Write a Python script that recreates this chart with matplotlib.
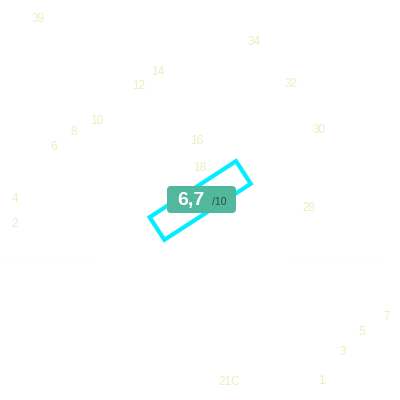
import matplotlib
matplotlib.use("Agg")
import matplotlib.pyplot as plt
from matplotlib.patches import FancyBboxPatch, Rectangle
import matplotlib.transforms as mtransforms

# seat labels and their positions on the plan (pixel units, y down)
labels = ["39", "34", "14", "12", "32", "10", "8", "6", "30", "16", "18",
          "4", "2", "28", "7", "5", "3", "21C", "1"]
label_x = [38, 254, 158, 139, 291, 97, 74, 54, 319, 197, 200,
           15, 15, 309, 387, 362, 343, 229, 321]
label_y = [19, 42, 72, 86, 84, 121, 132, 147, 130, 141, 168,
           199, 224, 208, 317, 332, 352, 382, 381]

# highlighted seat (centre, size, angle)
seat_center = (200.2, 200.5)
seat_size = (103, 27)
seat_angle = -33

score_text = "6,7"
score_max = "/10"

label_color = "#e2f4c0"

fig = plt.figure(figsize=(4, 4), dpi=100)
ax = fig.add_axes([0, 0, 1, 1])
ax.set_xlim(0, 400)
ax.set_ylim(400, 0)
ax.axis("off")

# faint divider lines
ax.plot([0, 90], [263, 263], color="#fefef4", lw=1)
ax.plot([293, 380], [263, 263], color="#fefef4", lw=1)

for t, x, y in zip(labels, label_x, label_y):
    ax.text(x, y, t, ha="center", va="center", fontsize=8.5,
            family="Liberation Sans", color=label_color)

# rotated seat outline
w, h = seat_size
rect = Rectangle((seat_center[0] - w / 2, seat_center[1] - h / 2), w, h,
                 fill=False, edgecolor="#00eeff", lw=3)
tr = mtransforms.Affine2D().rotate_deg_around(seat_center[0], seat_center[1], seat_angle) + ax.transData
rect.set_transform(tr)
ax.add_patch(rect)

# score badge
badge = FancyBboxPatch((167, 186), 69, 27, boxstyle="round,pad=0,rounding_size=4",
                       facecolor="#52b89d", edgecolor="none", zorder=5)
ax.add_patch(badge)
ax.text(190.5, 200, score_text, ha="center", va="center", fontsize=14,
        fontweight="bold", family="Liberation Sans", color="white", zorder=6)
ax.text(219, 202, score_max, ha="center", va="center", fontsize=7.5,
        family="Liberation Sans", color="#2f4a42", zorder=6)

fig.savefig("out.png", dpi=100)
